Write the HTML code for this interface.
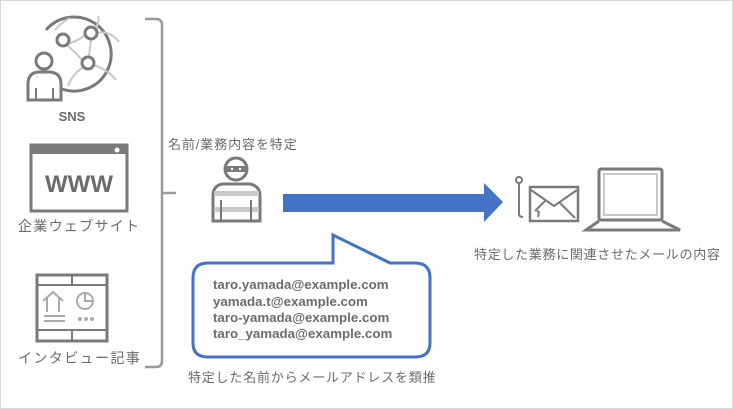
<!DOCTYPE html>
<html><head><meta charset="utf-8"><style>
html,body{margin:0;padding:0;background:#fff}
svg{display:block}
text{font-family:"Liberation Sans","Noto Sans CJK JP",sans-serif;fill:#6b6b6b}
</style></head><body>
<svg width="733" height="409" viewBox="0 0 733 409" xmlns="http://www.w3.org/2000/svg">
<rect x="0.5" y="0.5" width="732" height="408" fill="#fff" stroke="#d9d9d9"/>
<!-- SNS icon -->
<g fill="none" stroke-width="3">
<path d="M62 89 A37 37 0 1 0 46 30" stroke="#7a7a7a"/>
<path d="M67 44 Q80 40 85 35 M91 39 L89 57 M67 45 Q78 55 82 60 M96 33 Q110 30 119 42 M94 65 Q108 70 116 80 M82 68 Q72 75 68 86 M96 28 Q100 20 98 16 M55 30 Q62 22 70 18" stroke="#c8c8c8" stroke-width="2"/>
<circle cx="63" cy="40" r="6" stroke="#7a7a7a" fill="#fff"/>
<circle cx="91" cy="33" r="6" stroke="#7a7a7a" fill="#fff"/>
<circle cx="88" cy="63" r="6" stroke="#7a7a7a" fill="#fff"/>
<circle cx="44" cy="61" r="8" stroke="#7a7a7a" fill="#fff"/>
<path d="M28 100 V84 Q28 73 38 72 H50 Q61 73 61 84 V100 Z" stroke="#7a7a7a" fill="#fff"/>
<path d="M36 88 V100 M53 88 V100" stroke="#7a7a7a" stroke-width="2"/>
</g>
<text x="72" y="121" font-size="13" font-weight="bold" text-anchor="middle">SNS</text>
<!-- WWW -->
<rect x="31" y="145" width="96" height="66" fill="#fff" stroke="#7a7a7a" stroke-width="3"/>
<rect x="31" y="145" width="96" height="9" fill="#7a7a7a"/>
<circle cx="117" cy="150" r="2.5" fill="#fff"/>
<text x="79" y="192" font-size="24" font-weight="bold" text-anchor="middle" fill="#6b6b6b">WWW</text>
<text x="18" y="231" font-size="14" letter-spacing="1.3">企業ウェブサイト</text>
<!-- Interview -->
<g fill="none">
<rect x="37" y="275" width="70" height="66" stroke="#7a7a7a" stroke-width="3"/>
<path d="M37 285 H107 M37 330 H107 M72 275 V285 M72 330 V341" stroke="#7a7a7a" stroke-width="2"/>
<path d="M43 301 L53 292 L63 301 M47 298 V312 M59 298 V312" stroke="#aaa" stroke-width="2"/>
<circle cx="85" cy="301" r="8" stroke="#aaa" stroke-width="2"/>
<path d="M85 294 V301 H92" stroke="#aaa" stroke-width="2"/>
<path d="M44 316 H65 M44 321 H65" stroke="#aaa" stroke-width="2"/>
</g>
<circle cx="80" cy="319" r="2" fill="#aaa"/><circle cx="86" cy="319" r="2" fill="#aaa"/><circle cx="92" cy="319" r="2" fill="#aaa"/>
<text x="18" y="363" font-size="14" letter-spacing="1.4">インタビュー記事</text>
<!-- bracket -->
<path d="M145 19 H156 Q162 19 162 25 V361 Q162 367 156 367 H145 M162 193 H176" fill="none" stroke="#999" stroke-width="2.5"/>
<text x="168" y="149" font-size="13" letter-spacing="0.9">名前/業務内容を特定</text>
<!-- thief -->
<g>
<circle cx="236" cy="169" r="11" fill="#fff" stroke="#7a7a7a" stroke-width="3"/>
<rect x="225" y="166" width="22" height="6" fill="#7a7a7a"/>
<circle cx="232" cy="169" r="1.2" fill="#fff"/><circle cx="240" cy="169" r="1.2" fill="#fff"/>
<path d="M213 221 V196 Q213 186 222 184 H250 Q260 186 260 196 V221 Z" fill="#fff" stroke="#7a7a7a" stroke-width="3"/>
<rect x="214" y="191" width="45" height="5" fill="#c8c8c8"/>
<rect x="214" y="207" width="45" height="5" fill="#c8c8c8"/>
<path d="M221 200 V221 M251 200 V221" stroke="#7a7a7a" stroke-width="2"/>
</g>
<!-- arrow -->
<path d="M283 194 H484 V183 L503 202 L484 222 V212 H283 Z" fill="#4472c4"/>
<!-- envelope/hook -->
<g fill="none" stroke="#7a7a7a" stroke-width="2">
<circle cx="519" cy="180" r="3"/>
<path d="M519 183 V214 Q519 217 523 217"/>
<rect x="530" y="187" width="48" height="34" stroke-width="2.5"/>
<path d="M531 190 L554 206 L577 190 M545 201 L535 211 M560 203 L575 218"/>
<path d="M537 212 Q540 209 538 217"/>
</g>
<!-- laptop -->
<g fill="none" stroke="#7a7a7a" stroke-width="3">
<rect x="599" y="169" width="63" height="51" rx="2"/>
<path d="M599 221 L586 230 H680 L662 221"/>
</g>
<rect x="604" y="174" width="53" height="41" fill="none" stroke="#c8c8c8" stroke-width="2"/>
<text x="474" y="259" font-size="13" letter-spacing="0.7">特定した業務に関連させたメールの内容</text>
<!-- callout -->
<path d="M208 263 H333 V235 L390 263 H415 Q430 263 430 278 V343 Q430 357 415 357 H208 Q193 357 193 343 V278 Q193 263 208 263 Z" fill="#fff" stroke="#4472c4" stroke-width="3"/>
<g font-size="13.3" font-weight="bold">
<text x="213" y="289">taro.yamada@example.com</text>
<text x="213" y="306">yamada.t@example.com</text>
<text x="213" y="322">taro-yamada@example.com</text>
<text x="213" y="338">taro_yamada@example.com</text>
</g>
<text x="188" y="382" font-size="13" letter-spacing="0.8">特定した名前からメールアドレスを類推</text>
</svg>
</body></html>
